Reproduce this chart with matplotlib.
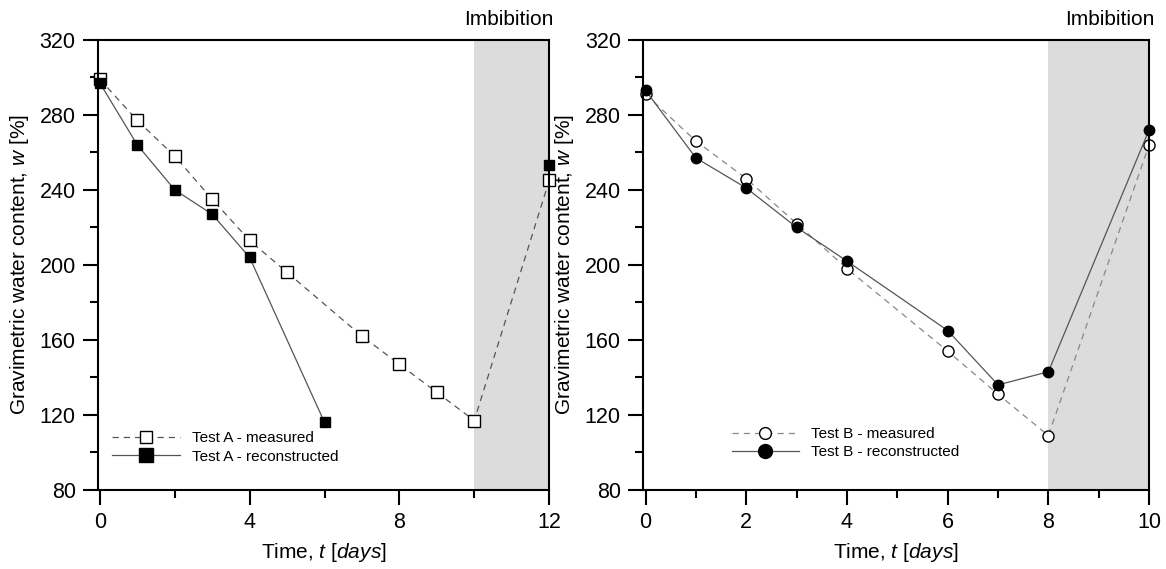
import numpy as np
import matplotlib.pyplot as plt
from matplotlib.lines import Line2D
from matplotlib.ticker import MultipleLocator

plt.rcParams['font.family'] = ['Liberation Sans', 'DejaVu Sans']
plt.rcParams['mathtext.fontset'] = 'custom'
plt.rcParams['mathtext.it'] = 'Liberation Sans:italic'
plt.rcParams['mathtext.rm'] = 'Liberation Sans'

# Test A
tA_meas = [0, 1, 2, 3, 4, 5, 7, 8, 9, 10, 12]
wA_meas = [299, 277, 258, 235, 213, 196, 162, 147, 132, 117, 245]
tA_rec = [0, 1, 2, 3, 4, 6, 12]
wA_rec = [297, 264, 240, 227, 204, 116, 253]

# Test B
tB_meas = [0, 1, 2, 3, 4, 6, 7, 8, 10]
wB_meas = [291, 266, 246, 222, 198, 154, 131, 109, 264]
tB_rec = [0, 1, 2, 3, 4, 6, 7, 8, 10]
wB_rec = [293, 257, 241, 220, 202, 165, 136, 143, 272]

imbA = (10, 12)
imbB = (8, 10)

fig = plt.figure(figsize=(11.66, 5.69), dpi=100)
ax1 = fig.add_axes([0.084, 0.139, 0.387, 0.791])
ax2 = fig.add_axes([0.5515, 0.139, 0.434, 0.791])

line_col = '#555555'
dash_B = '#888888'


def setup(ax, xmax, xmajor, imb):
    ax.axvspan(imb[0], imb[1], color='#dcdcdc', zorder=0, lw=0)
    ax.set_xlim(-0.05, xmax)
    ax.set_ylim(80, 320)
    ax.xaxis.set_major_locator(MultipleLocator(xmajor))
    ax.xaxis.set_minor_locator(MultipleLocator(xmajor / 2))
    ax.yaxis.set_major_locator(MultipleLocator(40))
    ax.yaxis.set_minor_locator(MultipleLocator(20))
    ax.tick_params(which='major', direction='out', length=11, width=1.5, labelsize=15.5, pad=5)
    ax.tick_params(which='minor', direction='out', length=5.5, width=1.5)
    for s in ax.spines.values():
        s.set_linewidth(1.5)
    ax.set_xlabel('Time, $t$ [$days$]', fontsize=15, labelpad=6)
    ax.set_ylabel('Gravimetric water content, $w$ [%]', fontsize=15, labelpad=6)
    ax.text(1.01, 1.025, 'Imbibition', transform=ax.transAxes, ha='right', va='bottom', fontsize=15)


def legend(ax, handles, anchor):
    ax.legend(handles=handles, loc='upper left', bbox_to_anchor=anchor, frameon=False, fontsize=11,
              handlelength=4.4, handletextpad=0.8, labelspacing=0.3, borderpad=0)


setup(ax1, 12, 4, imbA)
ax1.plot(tA_meas, wA_meas, ls='--', dashes=(5, 4), color=line_col, lw=0.9,
         marker='s', ms=8.5, mfc='white', mec='black', mew=1.0, clip_on=False)
# reconstructed drying branch is joined up to day 6; the imbibition point stands alone
ax1.plot(tA_rec[:-1], wA_rec[:-1], ls='-', color=line_col, lw=0.9,
         marker='s', ms=7, mfc='black', mec='black', clip_on=False)
ax1.plot(tA_rec[-1:], wA_rec[-1:], ls='none',
         marker='s', ms=7, mfc='black', mec='black', clip_on=False)
legend(ax1, [
    Line2D([], [], ls='--', dashes=(5, 4), color=line_col, lw=0.9, marker='s', ms=8,
           mfc='white', mec='black', mew=1.0, label='Test A - measured'),
    Line2D([], [], ls='-', color=line_col, lw=0.9, marker='s', ms=9.5,
           mfc='black', mec='black', label='Test A - reconstructed'),
], (0.015, 0.148))

setup(ax2, 10, 2, imbB)
ax2.plot(tB_meas, wB_meas, ls='--', dashes=(5, 4), color=dash_B, lw=0.9,
         marker='o', ms=8, mfc='white', mec='black', mew=1.0, clip_on=False)
ax2.plot(tB_rec, wB_rec, ls='-', color=line_col, lw=0.9,
         marker='o', ms=7.5, mfc='black', mec='black', clip_on=False)
legend(ax2, [
    Line2D([], [], ls='--', dashes=(5, 4), color=dash_B, lw=0.9, marker='o', ms=8.5,
           mfc='white', mec='black', mew=1.0, label='Test B - measured'),
    Line2D([], [], ls='-', color=line_col, lw=0.9, marker='o', ms=10,
           mfc='black', mec='black', label='Test B - reconstructed'),
], (0.16, 0.157))

fig.savefig('out.png', dpi=100)
